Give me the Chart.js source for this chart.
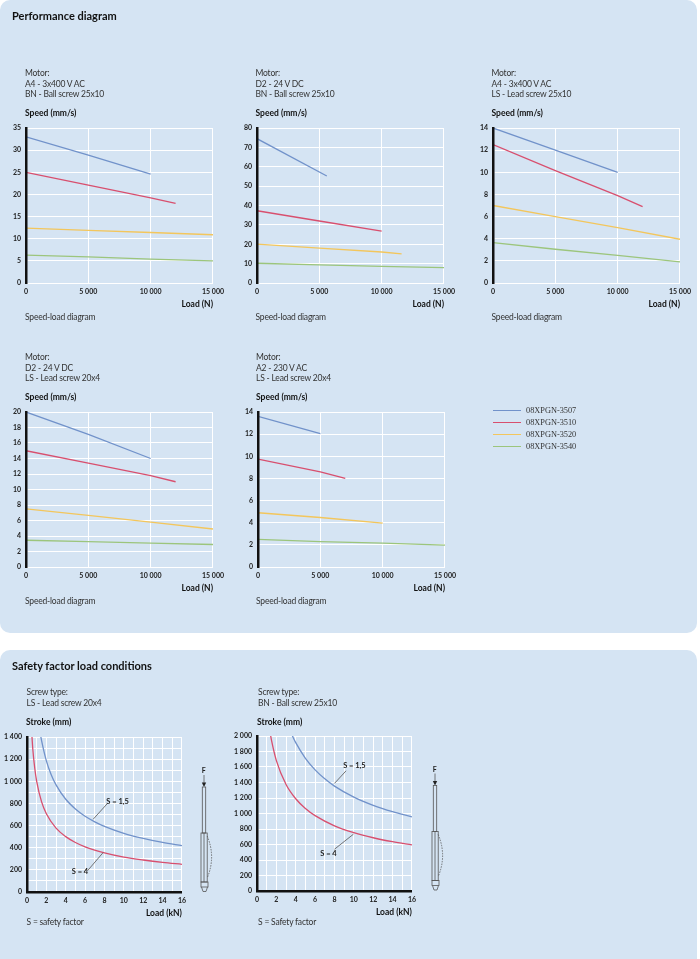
<!DOCTYPE html>
<html>
<head>
<meta charset="utf-8">
<script src="https://cdn.jsdelivr.net/npm/chart.js@4"></script>
<style>
 body{margin:0;background:#fff;width:700px;height:959px;overflow:hidden;position:relative;font-family:Lato,"Noto Sans",sans-serif;}
 .panel{position:absolute;left:0;width:697px;background:#d5e4f3;border-radius:10px;}
 .t{position:absolute;white-space:nowrap;line-height:10px;font-size:8.5px;color:#333;letter-spacing:-0.2px;}
 .b{font-weight:bold;color:#111;letter-spacing:0;}
 .h{font-weight:bold;font-size:11px;color:#111;line-height:14px;letter-spacing:0;}
 canvas{position:absolute;}
 .lg{position:absolute;left:493px;height:1.3px;width:28px;}
 .lgt{position:absolute;left:526px;font-family:"Liberation Serif",serif;font-size:8.3px;color:#333;line-height:10px;white-space:nowrap;}
 svg{position:absolute;left:0;top:0;}
</style>
</head>
<body>
<div class="panel" style="top:0;height:633px"></div>
<div class="panel" style="top:650px;height:330px"></div>

<canvas id="c1" width="229" height="195" style="left:0px;top:118px"></canvas>
<canvas id="c2" width="229" height="195" style="left:231px;top:118px"></canvas>
<canvas id="c3" width="229" height="195" style="left:467px;top:118px"></canvas>
<canvas id="c4" width="229" height="195" style="left:0px;top:402px"></canvas>
<canvas id="c5" width="229" height="195" style="left:232px;top:402px"></canvas>
<canvas id="c6" width="191" height="195" style="left:0px;top:727px"></canvas>
<canvas id="c7" width="191" height="195" style="left:230px;top:726px"></canvas>

<svg width="700" height="959">
 <g id="icon" fill="none" stroke="#555" stroke-width="0.8">
  <text x="203.7" y="773" font-family="Lato" font-weight="bold" font-size="7" fill="#222" stroke="none" text-anchor="middle">F</text>
  <line x1="204" y1="775" x2="204" y2="783"/>
  <path d="M201.8 782.5 L206.2 782.5 L204 787 Z" fill="#222" stroke="none"/>
  <rect x="202.3" y="787" width="3.4" height="46"/>
  <rect x="201" y="833" width="6.2" height="49"/>
  <line x1="204" y1="833" x2="204" y2="882"/>
  <path d="M207.2 836 Q216 857 207.2 878" stroke-dasharray="1.5 1.2"/>
  <rect x="201" y="882" width="7" height="5"/>
  <path d="M201.5 887 L203 891.5 L206 891.5 L207.5 887"/>
 </g>
 <use href="#icon" x="231" y="-1.5"/>
</svg>

<script>
// series names and colours (shared by all speed-load diagrams)
var seriesNames = ["08XPGN-3507", "08XPGN-3510", "08XPGN-3520", "08XPGN-3540"];
var seriesColors = ["#7192ca", "#d84f6e", "#f3c65c", "#9cc57c"];

// chart 1: A4 - 3x400 V AC, BN - Ball screw 25x10  [load N, speed mm/s]
var c1_3507 = [[0,33],[5000,28.9],[10000,24.6]];
var c1_3510 = [[0,25],[5000,22.1],[10000,19.2],[12000,18]];
var c1_3520 = [[0,12.4],[5000,11.9],[10000,11.4],[15000,10.9]];
var c1_3540 = [[0,6.3],[5000,5.9],[10000,5.4],[15000,5.0]];

// chart 2: D2 - 24 V DC, BN - Ball screw 25x10
var c2_3507 = [[0,74.5],[5600,55.2]];
var c2_3510 = [[0,37.3],[5000,32],[10000,26.8]];
var c2_3520 = [[0,20.1],[5000,18],[10000,16],[11600,15]];
var c2_3540 = [[0,10.2],[5000,9.4],[10000,8.6],[15000,7.9]];

// chart 3: A4 - 3x400 V AC, LS - Lead screw 25x10
var c3_3507 = [[0,14],[5000,12],[10000,10]];
var c3_3510 = [[0,12.5],[5000,10.15],[10000,7.9],[12000,6.9]];
var c3_3520 = [[0,7.0],[5000,6.0],[10000,5.0],[15000,3.95]];
var c3_3540 = [[0,3.65],[5000,3.05],[10000,2.5],[15000,1.9]];

// chart 4: D2 - 24 V DC, LS - Lead screw 20x4
var c4_3507 = [[0,20],[5000,17.1],[10000,14]];
var c4_3510 = [[0,15],[5000,13.4],[10000,11.8],[12000,11]];
var c4_3520 = [[0,7.5],[5000,6.65],[10000,5.8],[15000,4.9]];
var c4_3540 = [[0,3.45],[5000,3.27],[10000,3.07],[15000,2.9]];

// chart 5: A2 - 230 V AC, LS - Lead screw 20x4
var c5_3507 = [[0,13.6],[5000,12.05]];
var c5_3510 = [[0,9.75],[5000,8.6],[7000,8.0]];
var c5_3520 = [[0,4.9],[5000,4.47],[10000,3.97]];
var c5_3540 = [[0,2.5],[5000,2.3],[10000,2.15],[15000,1.98]];

// safety factor, LS - Lead screw 20x4  [load kN, stroke mm]
var ls_s15 = [[1.35,1440],[1.5,1370],[2,1185],[2.5,1060],[3,968],[4,838],[5,750],[6,684],[7,634],[8,593],[10,530],[12,484],[14,448],[16,419]];
var ls_s4 = [[0.45,1490],[0.6,1290],[0.8,1118],[1,1000],[1.5,816],[2,707],[3,577],[4,500],[5,447],[6,408],[8,354],[10,316],[12,289],[14,267],[16,250]];

// safety factor, BN - Ball screw 25x10
var bn_s15 = [[3.6,2017],[4,1914],[5,1712],[6,1563],[7,1447],[8,1353],[10,1211],[12,1105],[14,1023],[16,957]];
var bn_s4 = [[1.35,2048],[1.5,1943],[2,1683],[3,1374],[4,1190],[5,1064],[6,972],[8,841],[10,753],[12,687],[14,636],[16,595]];

// tick labels with a space as thousands separator
function fmt(v){ return String(v).replace(/\B(?=(\d{3})+(?!\d))/g, " "); }

var tickFont = {family: "Lato", size: 7, weight: "bold"};
var ink = "#222";

function label(text, x, cy, cls){
 var d = document.createElement("div");
 d.className = "t " + (cls || "");
 d.textContent = text;
 d.style.left = x + "px";
 d.style.top = (cy - (cls == "h" ? 7 : 5)) + "px";
 document.body.appendChild(d);
}

function perfChart(id, series, yMax, yStep){
 new Chart(document.getElementById(id), {
  type: "scatter",
  data: {
   datasets: series.map(function(pts, i){
    return {
     label: seriesNames[i],
     data: pts.map(function(p){ return {x: p[0], y: p[1]}; }),
     showLine: true, borderColor: seriesColors[i], borderWidth: 1.3,
     pointRadius: 0, tension: 0
    };
   })
  },
  options: {
   responsive: false, animation: false, devicePixelRatio: 1,
   layout: {padding: {top: 10, right: 14, left: 0, bottom: 0}},
   plugins: {legend: {display: false}, tooltip: {enabled: false}},
   scales: {
    x: {
     type: "linear", min: 0, max: 15000,
     afterFit: function(s){ s.height = 30; },
     ticks: {stepSize: 5000, padding: 5, maxRotation: 0, autoSkip: false, font: tickFont, color: ink, callback: fmt},
     grid: {color: "#fff", drawTicks: false},
     border: {color: "#fff"},
     title: {display: true, text: "Load (N)", align: "end", color: "#111", font: {family: "Lato", size: 8.5, weight: "bold"}, padding: {top: 2, bottom: 4}}
    },
    y: {
     min: 0, max: yMax,
     afterFit: function(s){ s.width = 26; },
     ticks: {stepSize: yStep, padding: 5, autoSkip: false, font: tickFont, color: ink},
     grid: {color: "#fff", drawTicks: false},
     border: {color: "#111", width: 2.5, z: 1}
    }
   }
  }
 });
}

var leaders = {
 id: "leaders",
 afterDatasetsDraw: function(chart, args, opts){
  var ctx = chart.ctx, x = chart.scales.x, y = chart.scales.y;
  (opts.items || []).forEach(function(it){
   ctx.save();
   ctx.strokeStyle = "#555"; ctx.lineWidth = 0.8;
   ctx.beginPath();
   ctx.moveTo(x.getPixelForValue(it.from[0]), y.getPixelForValue(it.from[1]));
   ctx.lineTo(x.getPixelForValue(it.to[0]), y.getPixelForValue(it.to[1]));
   ctx.stroke();
   ctx.font = "bold 7.5px Lato"; ctx.fillStyle = ink;
   ctx.textAlign = "center"; ctx.textBaseline = "middle";
   ctx.fillText(it.text, x.getPixelForValue(it.at[0]), y.getPixelForValue(it.at[1]));
   ctx.restore();
  });
 }
};

function safetyChart(id, s15, s4, yMax, yGrid, items){
 new Chart(document.getElementById(id), {
  type: "scatter",
  data: {
   datasets: [
    {label: "S = 1,5", data: s15.map(function(p){ return {x: p[0], y: p[1]}; }), borderColor: seriesColors[0]},
    {label: "S = 4", data: s4.map(function(p){ return {x: p[0], y: p[1]}; }), borderColor: seriesColors[1]}
   ].map(function(d){
    d.showLine = true; d.borderWidth = 1.3; d.pointRadius = 0; d.cubicInterpolationMode = "monotone";
    return d;
   })
  },
  plugins: [leaders],
  options: {
   responsive: false, animation: false, devicePixelRatio: 1,
   layout: {padding: {top: 10, right: 8, left: 0, bottom: 0}},
   plugins: {legend: {display: false}, tooltip: {enabled: false}, leaders: {items: items}},
   scales: {
    x: {
     type: "linear", min: 0, max: 16,
     afterFit: function(s){ s.height = 30; },
     ticks: {stepSize: 1, padding: 5, maxRotation: 0, autoSkip: false, font: tickFont, color: ink,
      callback: function(v){ return v % 2 === 0 ? v : ""; }},
     grid: {color: "#fff", drawTicks: false},
     border: {color: "#111", width: 2.5, z: 1},
     title: {display: true, text: "Load (kN)", align: "end", color: "#111", font: {family: "Lato", size: 8.5, weight: "bold"}, padding: {top: 2, bottom: 4}}
    },
    y: {
     min: 0, max: yMax,
     afterFit: function(s){ s.width = 27; },
     ticks: {stepSize: yGrid, padding: 5, autoSkip: false, font: tickFont, color: ink,
      callback: function(v){ return v % 200 === 0 ? fmt(v) : ""; }},
     grid: {color: "#fff", drawTicks: false},
     border: {color: "#111", width: 2.5, z: 1}
    }
   }
  }
 });
}

// headings and captions
label("Performance diagram", 12, 16, "h");
label("Safety factor load conditions", 12, 666, "h");

var motors = [
 [25, 0, "A4 - 3x400 V AC", "BN - Ball screw 25x10"],
 [255.5, 0, "D2 - 24 V DC", "BN - Ball screw 25x10"],
 [491.5, 0, "A4 - 3x400 V AC", "LS - Lead screw 25x10"],
 [25, 284, "D2 - 24 V DC", "LS - Lead screw 20x4"],
 [256, 284, "A2 - 230 V AC", "LS - Lead screw 20x4"]
];
motors.forEach(function(m){
 label("Motor:", m[0], 73 + m[1]);
 label(m[2], m[0], 83.5 + m[1]);
 label(m[3], m[0], 94 + m[1]);
 label("Speed (mm/s)", m[0], 113 + m[1], "b");
 label("Speed-load diagram", m[0], 317 + m[1]);
});

label("Screw type:", 26.5, 692);
label("LS - Lead screw 20x4", 26.5, 703);
label("Stroke (mm)", 26, 722, "b");
label("S = safety factor", 26.5, 922);
label("Screw type:", 258, 692);
label("BN - Ball screw 25x10", 258, 703);
label("Stroke (mm)", 257, 722, "b");
label("S = Safety factor", 258, 922);

// legend
seriesNames.forEach(function(n, i){
 var cy = 410.7 + i * 12;
 var l = document.createElement("div");
 l.className = "lg"; l.style.top = (cy - 0.6) + "px"; l.style.background = seriesColors[i];
 document.body.appendChild(l);
 var t = document.createElement("div");
 t.className = "lgt"; t.style.top = (cy - 5) + "px"; t.textContent = n;
 document.body.appendChild(t);
});

perfChart("c1", [c1_3507, c1_3510, c1_3520, c1_3540], 35, 5);
perfChart("c2", [c2_3507, c2_3510, c2_3520, c2_3540], 80, 10);
perfChart("c3", [c3_3507, c3_3510, c3_3520, c3_3540], 14, 2);
perfChart("c4", [c4_3507, c4_3510, c4_3520, c4_3540], 20, 2);
perfChart("c5", [c5_3507, c5_3510, c5_3520, c5_3540], 14, 2);

safetyChart("c6", ls_s15, ls_s4, 1400, 100, [
 {text: "S = 1,5", at: [9.36, 814], from: [6.83, 657], to: [8.27, 796]},
 {text: "S = 4", at: [5.47, 181], from: [6.26, 193], to: [7.86, 356]}
]);
safetyChart("c7", bn_s15, bn_s4, 2000, 200, [
 {text: "S = 1,5", at: [10.06, 1612], from: [8.0, 1388], to: [9.2, 1551]},
 {text: "S = 4", at: [7.38, 484], from: [8.0, 539], to: [9.96, 733]}
]);
</script>
</body>
</html>
